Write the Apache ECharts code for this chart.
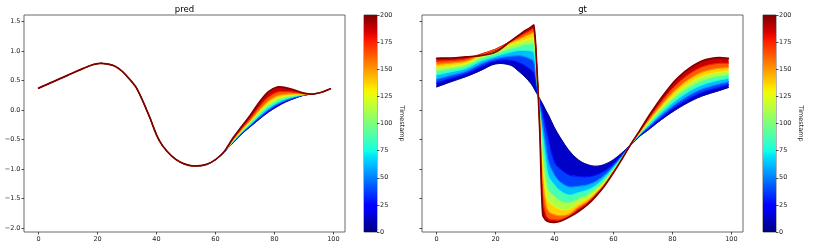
<!DOCTYPE html>
<html><head><meta charset="utf-8">
<script src="https://cdn.jsdelivr.net/npm/echarts@6/dist/echarts.min.js"></script>
<style>html,body{margin:0;padding:0;background:#fff}#c{width:830px;height:249px}</style>
</head><body><div id="c"></div>
<script>
// ---- data ----
const xs = [0,5,10,15,20,25,28,30,32,33,34,35,36,37,38,40,42,45,48,51,54,57,60,63,66,69,72,75,78,81,84,87,90,93,96,99];
const timestamps = [0,25,50,75,100,125,150,175,200];
const xTicks = [0,20,40,60,80,100];
const yTicks = [-2,-1.5,-1,-0.5,0,0.5,1,1.5];
const colorbarTicks = [0,25,50,75,100,125,150,175,200];

// "pred" panel: one curve per timestamp
const pred0   = [.37,.48,.59,.70,.785,.76,.67,.57,.455,.39,.30,.19,.08,-.04,-.16,-.42,-.60,-.77,-.88,-.935,-.945,-.92,-.84,-.71,-.55,-.40,-.275,-.15,-.035,.06,.14,.20,.25,.272,.30,.36];
const pred25  = [.37,.48,.59,.70,.785,.76,.67,.57,.455,.39,.30,.19,.08,-.04,-.16,-.42,-.60,-.77,-.88,-.935,-.945,-.92,-.84,-.71,-.546,-.394,-.265,-.136,-.018,.077,.152,.207,.252,.272,.30,.36];
const pred50  = [.37,.48,.59,.70,.785,.76,.67,.57,.455,.39,.30,.19,.08,-.04,-.16,-.42,-.60,-.77,-.88,-.935,-.945,-.92,-.84,-.71,-.540,-.384,-.251,-.115,.006,.10,.168,.216,.254,.272,.30,.36];
const pred75  = [.37,.48,.59,.70,.785,.76,.67,.57,.455,.39,.30,.19,.08,-.04,-.16,-.42,-.60,-.77,-.88,-.935,-.945,-.92,-.84,-.71,-.533,-.373,-.233,-.089,.037,.129,.189,.228,.257,.271,.30,.36];
const pred100 = [.37,.48,.59,.70,.785,.76,.67,.57,.455,.39,.30,.19,.08,-.04,-.16,-.42,-.60,-.77,-.88,-.935,-.945,-.92,-.84,-.705,-.525,-.36,-.213,-.06,.072,.162,.213,.242,.261,.271,.30,.36];
const pred125 = [.37,.48,.59,.70,.785,.76,.67,.57,.455,.39,.30,.19,.08,-.04,-.16,-.42,-.60,-.77,-.88,-.935,-.945,-.92,-.84,-.705,-.516,-.345,-.191,-.028,.11,.199,.239,.257,.265,.271,.30,.36];
const pred150 = [.37,.48,.59,.70,.785,.76,.67,.57,.455,.39,.30,.19,.08,-.04,-.16,-.42,-.60,-.77,-.88,-.935,-.945,-.92,-.84,-.70,-.506,-.329,-.165,.01,.155,.242,.269,.274,.269,.27,.30,.36];
const pred175 = [.37,.48,.59,.70,.785,.76,.67,.57,.455,.39,.30,.19,.08,-.04,-.16,-.42,-.60,-.77,-.88,-.935,-.945,-.92,-.84,-.70,-.491,-.304,-.127,.065,.22,.304,.314,.30,.276,.27,.30,.36];
const pred200 = [.37,.48,.59,.70,.785,.76,.67,.57,.455,.39,.30,.19,.08,-.04,-.16,-.42,-.60,-.77,-.88,-.935,-.945,-.92,-.84,-.70,-.47,-.27,-.075,.14,.31,.39,.375,.335,.285,.27,.30,.36];

// "gt" panel: one curve per timestamp
const gt0   = [.39,.48,.565,.67,.78,.76,.65,.56,.45,.37,.28,.19,.10,.0,-.09,-.30,-.47,-.69,-.84,-.92,-.95,-.92,-.84,-.72,-.58,-.44,-.33,-.21,-.10,.0,.09,.17,.235,.285,.33,.38];
const gt25  = [.458,.536,.612,.73,.83,.84,.80,.75,.68,.62,.35,.14,-.05,-.27,-.50,-.88,-1.00,-1.10,-1.12,-1.13,-1.10,-1.03,-.91,-.75,-.58,-.43,-.307,-.177,-.058,.05,.145,.228,.295,.344,.386,.43];
const gt50  = [.521,.588,.655,.78,.87,.91,.92,.90,.86,.82,.42,.08,-.25,-.58,-.88,-1.10,-1.22,-1.30,-1.29,-1.27,-1.21,-1.10,-.95,-.77,-.58,-.42,-.284,-.144,-.016,.10,.20,.286,.354,.402,.441,.479];
const gt75  = [.594,.648,.706,.83,.91,.98,1.01,1.01,1.00,.98,.50,.0,-.45,-.85,-1.12,-1.27,-1.37,-1.44,-1.40,-1.36,-1.28,-1.15,-.98,-.79,-.578,-.408,-.256,-.104,.034,.16,.266,.356,.425,.472,.508,.538];
const gt100 = [.657,.70,.749,.87,.95,1.04,1.08,1.11,1.12,1.12,.58,-.08,-.70,-1.10,-1.35,-1.46,-1.54,-1.57,-1.50,-1.44,-1.33,-1.19,-1.005,-.80,-.576,-.396,-.229,-.065,.085,.22,.332,.425,.497,.542,.574,.598];
const gt125 = [.715,.748,.789,.905,.99,1.10,1.15,1.18,1.21,1.22,.64,-.15,-.95,-1.35,-1.55,-1.63,-1.68,-1.68,-1.58,-1.50,-1.38,-1.22,-1.025,-.81,-.575,-.384,-.201,-.025,.135,.28,.398,.495,.568,.613,.641,.657];
const gt150 = [.773,.796,.83,.935,1.02,1.14,1.20,1.25,1.29,1.31,.69,-.22,-1.2,-1.58,-1.72,-1.77,-1.79,-1.76,-1.64,-1.55,-1.41,-1.25,-1.04,-.815,-.573,-.372,-.174,.014,.186,.34,.464,.564,.64,.683,.707,.717];
const gt175 = [.827,.84,.867,.945,1.03,1.16,1.24,1.30,1.35,1.38,.72,-.28,-1.5,-1.76,-1.84,-1.86,-1.86,-1.80,-1.68,-1.58,-1.44,-1.27,-1.05,-.82,-.572,-.357,-.139,.064,.249,.415,.547,.651,.729,.771,.791,.791];
const gt200 = [.875,.88,.90,.92,.98,1.16,1.27,1.34,1.40,1.43,.73,-.35,-1.77,-1.86,-1.89,-1.90,-1.88,-1.81,-1.72,-1.61,-1.46,-1.28,-1.06,-.82,-.57,-.34,-.10,.12,.32,.50,.64,.75,.83,.87,.885,.875];

const predCurves = [pred0,pred25,pred50,pred75,pred100,pred125,pred150,pred175,pred200];
const gtCurves = [gt0,gt25,gt50,gt75,gt100,gt125,gt150,gt175,gt200];
const colorbarMax = 200;
const panelTitles = ['pred','gt'];
const colorbarLabel = 'Timestamp';

// ---- jet colormap (style) ----
const JET = {
  r: [[0,0],[0.35,0],[0.66,1],[0.89,1],[1,0.5]],
  g: [[0,0],[0.125,0],[0.375,1],[0.64,1],[0.91,0],[1,0]],
  b: [[0,0.5],[0.11,1],[0.34,1],[0.65,0],[1,0]]
};
function seg(p, v){
  for (let i=1;i<p.length;i++){
    if (v<=p[i][0]){const a=p[i-1],b=p[i];return a[1]+(b[1]-a[1])*(v-a[0])/(b[0]-a[0]);}
  }
  return p[p.length-1][1];
}
function jet(v){
  v=Math.max(0,Math.min(1,v));
  const c=k=>Math.round(255*seg(JET[k],v));
  return 'rgb('+c('r')+','+c('g')+','+c('b')+')';
}

const FONT='DejaVu Sans';
const labelStyle={fontSize:6.5,color:'#222',fontFamily:FONT};
const SMOOTH=0.35;

// smooth path through pixel points (same control-point rule as ECharts line smoothing)
function ctrl(p,i){
  const n=p.length, prev=p[Math.max(0,i-1)], next=p[Math.min(n-1,i+1)], cur=p[i];
  const vx=next[0]-prev[0], vy=next[1]-prev[1];
  const d0=Math.hypot(cur[0]-prev[0],cur[1]-prev[1]), d1=Math.hypot(next[0]-cur[0],next[1]-cur[1]);
  const r=(d0+d1)>0?d1/(d0+d1):0.5;
  return {out:[cur[0]+vx*SMOOTH*r,cur[1]+vy*SMOOTH*r],inn:[cur[0]-vx*SMOOTH*(1-r),cur[1]-vy*SMOOTH*(1-r)]};
}
function curvePath(p,start){
  let d=(start?'M':'L')+p[0][0].toFixed(2)+' '+p[0][1].toFixed(2);
  const cs=p.map((_,i)=>ctrl(p,i));
  for(let i=0;i<p.length-1;i++){
    const a=cs[i].out,b=cs[i+1].inn,e=p[i+1];
    d+=' C'+a[0].toFixed(2)+' '+a[1].toFixed(2)+' '+b[0].toFixed(2)+' '+b[1].toFixed(2)+' '+e[0].toFixed(2)+' '+e[1].toFixed(2);
  }
  return d;
}
function pixelPoints(api,n,dim){
  const p=[];
  for(let j=0;j<n;j++) p.push(api.coord([api.value(0,j),api.value(dim,j)]));
  return p;
}
// band between two consecutive timestamps: data rows [x, lower curve, upper curve]
function bandItem(params, api){
  if (params.dataIndexInside !== 0) return null;
  const n=params.dataInsideLength;
  const lo=pixelPoints(api,n,1), hi=pixelPoints(api,n,2);
  const d=curvePath(hi,true)+' '+curvePath(lo.slice().reverse(),false)+' Z';
  const c=api.visual('color');
  return {type:'path',shape:{pathData:d},style:{fill:c,stroke:c,lineWidth:0.5}};
}
// one timestamp's curve: data rows [x, value]
function lineItem(params, api){
  if (params.dataIndexInside !== 0) return null;
  const n=params.dataInsideLength;
  const p=pixelPoints(api,n,1);
  return {type:'path',shape:{pathData:curvePath(p,true)},
    style:{fill:null,stroke:api.visual('color'),lineWidth:1,lineJoin:'round',lineCap:'round'}};
}

function panelSeries(curves, axisIdx){
  const out=[];
  for(let k=1;k<curves.length;k++){
    const mid=(timestamps[k]+timestamps[k-1])/2/colorbarMax;
    out.push({type:'custom',xAxisIndex:axisIdx,yAxisIndex:axisIdx,silent:true,z:2,
      renderItem:bandItem,itemStyle:{color:jet(mid)},encode:{x:0,y:[1,2]},
      data:xs.map((x,i)=>[x,curves[k-1][i],curves[k][i]])});
  }
  for(let k=0;k<curves.length;k++){
    const last=k===curves.length-1;
    const w=last?1.7:0.9;
    out.push({type:'custom',xAxisIndex:axisIdx,yAxisIndex:axisIdx,silent:true,z:3,
      renderItem:function(p,a){const e=lineItem(p,a);if(e)e.style.lineWidth=w;return e;},
      itemStyle:{color:jet(timestamps[k]/colorbarMax)},encode:{x:0,y:1},
      data:xs.map((x,i)=>[x,curves[k][i]])});
  }
  return out;
}

const gradStops=[];
for(let i=0;i<=40;i++){gradStops.push({offset:i/40,color:jet(i/40)});}

const tickStyle={show:true,length:2.5,lineStyle:{color:'#222',width:0.8}};
function xAx(gi){return {type:'value',gridIndex:gi,min:-4.95,max:103.95,position:'bottom',
  axisLine:{show:false,onZero:false},splitLine:{show:false},
  axisTick:Object.assign({customValues:xTicks},tickStyle),
  axisLabel:Object.assign({margin:3.5,customValues:xTicks},labelStyle)};}
function yAx(gi,show){return {type:'value',gridIndex:gi,min:-2.063,max:1.607,position:'left',
  axisLine:{show:false,onZero:false},splitLine:{show:false},
  axisTick:Object.assign({customValues:yTicks},tickStyle),
  axisLabel:Object.assign({show:show,margin:3.5,customValues:yTicks,
    formatter:v=>(v<0?'\u2212':'')+Math.abs(v).toFixed(1)},labelStyle)};}
function cbY(gi){return {type:'value',gridIndex:gi,position:'right',min:0,max:colorbarMax,
  axisLine:{show:false,onZero:false},splitLine:{show:false},
  axisTick:Object.assign({customValues:colorbarTicks},tickStyle),
  axisLabel:Object.assign({margin:3,customValues:colorbarTicks},labelStyle),
  name:colorbarLabel,nameLocation:'middle',nameRotate:-90,nameGap:21,
  nameTextStyle:{fontSize:6.5,color:'#222',fontFamily:FONT}};}
function cbX(gi){return {type:'category',gridIndex:gi,data:[''],show:false};}

const chart=echarts.init(document.getElementById('c'),null,{renderer:'canvas'});
const frame={show:true,borderColor:'#444',borderWidth:0.8,backgroundColor:'transparent'};
chart.setOption({
  animation:false,
  backgroundColor:'#fff',
  grid:[
    Object.assign({left:24,top:15,width:321,height:217},frame),
    Object.assign({left:364,top:15,width:13,height:217},frame),
    Object.assign({left:422,top:15,width:321,height:217},frame),
    Object.assign({left:763,top:15,width:13,height:217},frame)
  ],
  xAxis:[xAx(0),cbX(1),xAx(2),cbX(3)],
  yAxis:[yAx(0,true),cbY(1),yAx(2,false),cbY(3)],
  graphic:[
    {type:'text',x:184.5,y:10,style:{text:panelTitles[0],align:'center',verticalAlign:'middle',fontSize:8.5,fill:'#000',fontFamily:FONT}},
    {type:'text',x:582.5,y:10,style:{text:panelTitles[1],align:'center',verticalAlign:'middle',fontSize:8.5,fill:'#000',fontFamily:FONT}}
  ],
  series:[].concat(
    panelSeries(predCurves,0),
    [{type:'bar',xAxisIndex:1,yAxisIndex:1,data:[colorbarMax],barWidth:'100%',silent:true,
      itemStyle:{color:new echarts.graphic.LinearGradient(0,1,0,0,gradStops)}}],
    panelSeries(gtCurves,2),
    [{type:'bar',xAxisIndex:3,yAxisIndex:3,data:[colorbarMax],barWidth:'100%',silent:true,
      itemStyle:{color:new echarts.graphic.LinearGradient(0,1,0,0,gradStops)}}]
  )
});
</script></body></html>
